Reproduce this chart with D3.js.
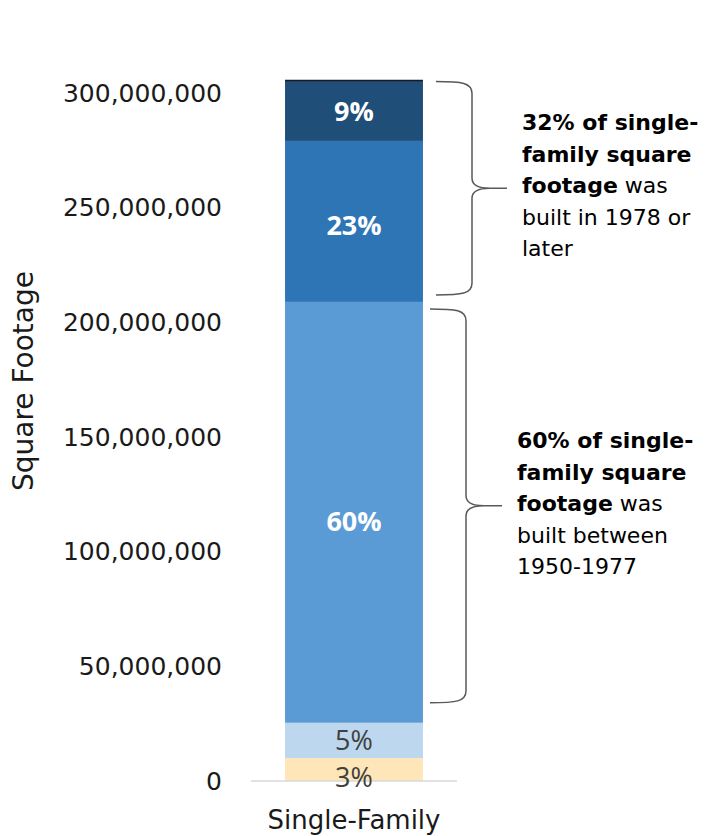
<!DOCTYPE html>
<html>
<head>
<meta charset="utf-8">
<script src="https://cdn.jsdelivr.net/npm/d3@7"></script>
<style>
  html, body { margin: 0; padding: 0; background: #ffffff; }
  svg { display: block; }
</style>
</head>
<body>
<svg id="chart" width="710" height="836"></svg>
<script>
// Single-family square footage by construction era (stacked column)
const categories = ["Single-Family"];
const eraKeys = ["era1", "era2", "era3", "era4", "era5"];
const sqftValues = [10.0e6, 15.4e6, 183.5e6, 70.2e6, 26.3e6];
const yTickValues = [0, 50e6, 100e6, 150e6, 200e6, 250e6, 300e6];
const braceNotes = [
  { from: "era4", to: "era5", bold: ["32% of single-", "family square", "footage"], rest: [" was", "built in 1978 or", "later"] },
  { from: "era3", to: "era3", bold: ["60% of single-", "family square", "footage"], rest: [" was", "built between", "1950-1977"] }
];

const palette = ["#fee6b8", "#bdd7ee", "#5b9bd5", "#2e75b6", "#1f4e79"];
const labelInk = ["#404040", "#404040", "#ffffff", "#ffffff", "#ffffff"];
// small vertical nudges for the in-bar labels (px)
const labelNudge = [8, 0, 9, 4, 1];

const svg = d3.select("#chart");
const tickFont = "'DejaVu Sans', sans-serif";

const x = d3.scaleBand().domain(categories).range([251, 457]).paddingInner(0.198).paddingOuter(0.198);
const y = d3.scaleLinear().domain([0, 300e6]).range([781, 93]);

const row = { category: categories[0] };
eraKeys.forEach((k, i) => row[k] = sqftValues[i]);
const stacked = d3.stack().keys(eraKeys)([row]);
const total = d3.sum(sqftValues);

// y axis: labels only
const yAxis = svg.append("g")
  .attr("transform", "translate(251,0)")
  .call(d3.axisLeft(y).tickValues(yTickValues).tickSize(0).tickPadding(29).tickFormat(d3.format(",")));
yAxis.select(".domain").remove();
yAxis.selectAll("text")
  .attr("font-family", tickFont)
  .attr("font-size", 25)
  .attr("fill", "#1a1a1a");

// axis title
svg.append("text")
  .attr("transform", `translate(33,381) rotate(-90)`)
  .attr("text-anchor", "middle")
  .attr("font-family", tickFont)
  .attr("font-size", 28)
  .attr("fill", "#1a1a1a")
  .text("Square Footage");

// stacked segments
const layers = svg.append("g").selectAll("g")
  .data(stacked)
  .join("g")
  .attr("fill", (d, i) => palette[i]);

layers.selectAll("rect")
  .data(d => d)
  .join("rect")
  .attr("x", d => x(d.data.category))
  .attr("width", x.bandwidth())
  .attr("y", d => y(d[1]))
  .attr("height", d => y(d[0]) - y(d[1]));

// thin dark edge on the column top
svg.append("line")
  .attr("x1", x(categories[0]))
  .attr("x2", x(categories[0]) + x.bandwidth())
  .attr("y1", y(total))
  .attr("y2", y(total))
  .attr("stroke", "#1a1a1a")
  .attr("stroke-width", 1.5);

// baseline
svg.append("line")
  .attr("x1", 251).attr("x2", 457)
  .attr("y1", y(0)).attr("y2", y(0))
  .attr("stroke", "#d9d9d9")
  .attr("stroke-width", 1.5);

// percentage labels
const pct = d3.format(".0%");
stacked.forEach((layer, i) => {
  const d = layer[0];
  const mid = (y(d[0]) + y(d[1])) / 2 + labelNudge[i];
  svg.append("text")
    .attr("x", x(d.data.category) + x.bandwidth() / 2)
    .attr("y", mid)
    .attr("dy", "0.36em")
    .attr("text-anchor", "middle")
    .attr("font-family", "'Open Sans', sans-serif")
    .attr("font-size", 27)
    .attr("font-weight", i >= 2 ? 700 : 400)
    .attr("fill", labelInk[i])
    .text(pct(sqftValues[i] / total));
});

// category label
svg.append("text")
  .attr("x", x(categories[0]) + x.bandwidth() / 2)
  .attr("y", 829)
  .attr("text-anchor", "middle")
  .attr("font-family", tickFont)
  .attr("font-size", 26)
  .attr("fill", "#1a1a1a")
  .text(categories[0]);

// curly braces with notes
function bracePath(x0, x1, xTip, yTop, yBot) {
  const ym = (yTop + yBot) / 2;
  const xm = x1 + 18;
  return [
    `M${x0},${yTop}`,
    `C${x0 + 26},${yTop} ${x1},${yTop + 1} ${x1},${yTop + 12}`,
    `L${x1},${ym - 10}`,
    `C${x1},${ym - 2} ${x1 + 8},${ym} ${xm},${ym}`,
    `L${xTip},${ym}`,
    `M${xm},${ym}`,
    `C${x1 + 8},${ym} ${x1},${ym + 2} ${x1},${ym + 10}`,
    `L${x1},${yBot - 12}`,
    `C${x1},${yBot - 1} ${x0 + 26},${yBot} ${x0},${yBot}`
  ].join(" ");
}

const stackByKey = {};
stacked.forEach(s => stackByKey[s.key] = s[0]);

const braceGeom = [
  { x0: 436, x1: 472, xTip: 507, top: y(stackByKey[braceNotes[0].to][1]) + 1, bot: y(stackByKey[braceNotes[0].from][0]) - 7, tx: 522, ty: 130 },
  { x0: 430, x1: 466, xTip: 502, top: y(stackByKey[braceNotes[1].to][1]) + 7, bot: y(stackByKey[braceNotes[1].from][0]) - 20, tx: 517, ty: 448 }
];

braceNotes.forEach((note, i) => {
  const g = braceGeom[i];
  svg.append("path")
    .attr("d", bracePath(g.x0, g.x1, g.xTip, g.top, g.bot))
    .attr("fill", "none")
    .attr("stroke", "#595959")
    .attr("stroke-width", 1.5);

  const t = svg.append("text")
    .attr("font-family", tickFont)
    .attr("font-size", 22)
    .attr("fill", "#000000");
  const lines = [
    [[note.bold[0], true]],
    [[note.bold[1], true]],
    [[note.bold[2], true], [note.rest[0], false]],
    [[note.rest[1], false]],
    [[note.rest[2], false]]
  ];
  lines.forEach((parts, li) => {
    parts.forEach((p, pi) => {
      const ts = t.append("tspan")
        .attr("font-weight", p[1] ? 700 : 400)
        .text(p[0]);
      if (pi === 0) ts.attr("x", g.tx).attr("y", g.ty + li * 31.5);
    });
  });
});
</script>
</body>
</html>
